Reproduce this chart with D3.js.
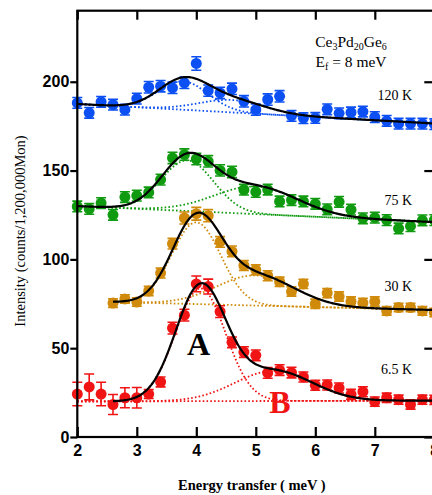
<!DOCTYPE html>
<html>
<head>
<meta charset="utf-8">
<script src="https://cdn.jsdelivr.net/npm/d3@7"></script>
<style>
  body { margin: 0; background: #fff; }
  .tick text { font-family: "Liberation Sans", Arial, sans-serif; font-size: 16px; font-weight: bold; }
  .serif { font-family: "Liberation Serif", "Times New Roman", serif; }
</style>
</head>
<body>
<div id="chart"></div>
<script>

// energy transfer (meV) of the measured points
var energy = [2.0, 2.2, 2.4, 2.6, 2.8, 3.0, 3.2, 3.4, 3.6, 3.8, 4.0, 4.2, 4.4, 4.6, 4.8, 5.0,
              5.2, 5.4, 5.6, 5.8, 6.0, 6.2, 6.4, 6.6, 6.8, 7.0, 7.2, 7.4, 7.6, 7.8, 8.0];
var energy30 = [2.6, 2.8, 3.0, 3.2, 3.4, 3.6, 3.8, 4.0, 4.2, 4.4, 4.6, 4.8, 5.0, 5.2,
                5.4, 5.6, 5.8, 6.0, 6.2, 6.4, 6.6, 6.8, 7.0, 7.2, 7.4, 7.6, 7.8, 8.0];

var int120 = [188.1, 182.5, 188.7, 187.1, 184.3, 190.5, 196.9, 197.5, 196.6, 199.4, 210.3, 195.0, 193.7, 196.0, 189.0, 184.3,
              190.0, 191.8, 180.8, 179.5, 179.6, 184.5, 182.2, 182.7, 183.2, 180.1, 178.0, 176.4, 176.4, 176.4, 176.1];
var err120 = [3, 3, 3, 3, 3, 3, 3.2, 3.2, 3.2, 3.2, 3.8, 3.2, 3.2, 3.2, 3.2, 3.2,
              3.2, 3.2, 3, 3, 3, 3, 3, 3, 3, 3, 3, 3, 3, 3, 3];

var int75 = [129.8, 128.4, 131.7, 125.1, 135.1, 135.9, 137.7, 144.9, 157.1, 159.0, 156.5, 155.2, 150.1, 149.2, 139.2, 138.0,
             139.3, 132.6, 133.4, 132.6, 131.3, 128.2, 132.4, 128.0, 123.1, 123.5, 122.1, 117.4, 118.7, 122.0, 122.1];
var err75 = [3, 3, 3, 3, 3, 3, 3, 3, 3.2, 3.2, 3.2, 3.2, 3.2, 3.2, 3, 3,
             3, 3, 3, 3, 3, 3, 3, 3, 3, 3, 3, 3, 3, 3, 3];

var int30 = [75.4, 77.7, 76.0, 82.2, 92.3, 108.8, 123.3, 125.7, 124.6, 109.8, 104.5, 96.6, 94.1, 90.8,
             87.4, 81.9, 86.2, 75.0, 81.0, 79.1, 76.3, 75.5, 76.3, 71.0, 72.9, 72.9, 71.0, 70.1];
var err30 = [2.4, 2.4, 2.4, 2.6, 2.8, 3, 3.4, 3.6, 3.4, 3, 3, 2.8, 2.8, 2.8,
             2.6, 2.6, 2.6, 2.6, 2.6, 2.6, 2.6, 2.6, 2.6, 2.4, 2.4, 2.4, 2.4, 2.4];

var int6 = [24.2, 28.2, 24.2, 18.3, 22.1, 22.1, 24.2, 31.0, 61.3, 68.6, 86.2, 84.7, 70.6, 53.3, 47.8, 46.0,
            36.1, 37.7, 36.3, 33.8, 29.1, 29.3, 27.6, 24.0, 25.5, 19.9, 22.1, 21.0, 18.3, 21.0, 20.9];
var err6 = [6.6, 7.3, 6.6, 5.6, 5.6, 5.8, 2.5, 2.8, 3.3, 3.3, 4.4, 4.2, 3.3, 3, 3, 3,
            3, 3, 3, 2.8, 2.8, 2.8, 2.8, 2.8, 2.8, 2.6, 2.6, 2.6, 2.6, 2.6, 2.6];

// fit parameters: background [value at 2 meV, value at 8 meV], peaks [amplitude, centre, sigma]
var bg120 = [187.5, 176.5], peakA120 = [16, 3.78, 0.42], peakB120 = [7, 4.6, 0.55];
var bg75 = [130, 121], peakA75 = [28.5, 3.85, 0.44], peakB75 = [15.5, 5.0, 0.7];
var bg30 = [76.5, 71.5], peakA30 = [46, 4.0, 0.41], peakB30 = [17, 5.0, 0.65];
var bg6 = [20, 20.5], peakA6 = [63.5, 4.07, 0.42], peakB6 = [17, 5.3, 0.65];

var tempLabels = ["120 K", "75 K", "30 K", "6.5 K"];
var xTicks = [2, 3, 4, 5, 6, 7, 8];
var yTicks = [0, 50, 100, 150, 200];

var series = [
  { e: energy, v: int120, err: err120, bg: bg120, A: peakA120, B: peakB120, color: "#0c4ff2", fitFrom: 2.0, dotFrom: 2.0 },
  { e: energy, v: int75, err: err75, bg: bg75, A: peakA75, B: peakB75, color: "#109a10", fitFrom: 2.0, dotFrom: 2.0 },
  { e: energy30, v: int30, err: err30, bg: bg30, A: peakA30, B: peakB30, color: "#d08b0c", fitFrom: 2.6, dotFrom: 2.6 },
  { e: energy, v: int6, err: err6, bg: bg6, A: peakA6, B: peakB6, color: "#f01414", fitFrom: 2.6, dotFrom: 2.0 }
];

var width = 432, height = 495;
var margin = { top: 10.7, right: -2.3, bottom: 58, left: 77.3 };

var svg = d3.select("#chart").append("svg")
    .attr("width", width)
    .attr("height", height);

var x = d3.scaleLinear().domain([2, 8]).range([margin.left, width - margin.right]);
var y = d3.scaleLinear().domain([0, 240]).range([height - margin.bottom, margin.top]);

function background(p, e) { return p[0] + (p[1] - p[0]) * (e - 2) / 6; }
function gauss(p, e) { return p[0] * Math.exp(-(e - p[1]) * (e - p[1]) / (2 * p[2] * p[2])); }

var line = d3.line()
    .x(function(d) { return x(d[0]); })
    .y(function(d) { return y(d[1]); })
    .curve(d3.curveLinear);

var plot = svg.append("g");

series.forEach(function(s) {
  var grid = d3.range(s.dotFrom, 8.0001, 0.02);
  var fitGrid = d3.range(s.fitFrom, 8.0001, 0.02);
  var comps = [
    grid.map(function(e) { return [e, background(s.bg, e)]; }),
    grid.map(function(e) { return [e, background(s.bg, e) + gauss(s.A, e)]; }),
    grid.map(function(e) { return [e, background(s.bg, e) + gauss(s.B, e)]; })
  ];
  plot.selectAll(null)
    .data(comps)
    .enter().append("path")
      .attr("d", line)
      .attr("fill", "none")
      .attr("stroke", s.color)
      .attr("stroke-width", 1.8)
      .attr("stroke-dasharray", "1.6,2.2");

  var pts = s.e.map(function(e, i) { return { e: e, v: s.v[i], err: s.err[i] }; });
  var g = plot.append("g");
  g.selectAll(".eb")
    .data(pts)
    .enter().append("path")
      .attr("d", function(d) {
        var cx = x(d.e), y0 = y(d.v - d.err), y1 = y(d.v + d.err);
        return "M" + cx + "," + y0 + "V" + y1 +
               "M" + (cx - 5) + "," + y0 + "H" + (cx + 5) +
               "M" + (cx - 5) + "," + y1 + "H" + (cx + 5);
      })
      .attr("stroke", s.color)
      .attr("stroke-width", 1.6)
      .attr("fill", "none");
  g.selectAll("circle")
    .data(pts)
    .enter().append("circle")
      .attr("cx", function(d) { return x(d.e); })
      .attr("cy", function(d) { return y(d.v); })
      .attr("r", 5.5)
      .attr("fill", s.color);

  s.fit = fitGrid.map(function(e) {
    return [e, background(s.bg, e) + gauss(s.A, e) + gauss(s.B, e)];
  });
});

// total fits on top
series.forEach(function(s) {
  plot.append("path")
    .attr("d", line(s.fit))
    .attr("fill", "none")
    .attr("stroke", "#000")
    .attr("stroke-width", 2.2);
});

// frame and axes
var x0 = x(2), x1 = x(8), y0 = y(0), y1 = y(240);
svg.append("rect")
  .attr("x", x0).attr("y", y1)
  .attr("width", x1 - x0).attr("height", y0 - y1)
  .attr("fill", "none").attr("stroke", "#000").attr("stroke-width", 2.2);

var xAxis = svg.append("g")
  .attr("transform", "translate(0," + y0 + ")")
  .call(d3.axisBottom(x).tickValues(xTicks).tickFormat(d3.format("d"))
        .tickSizeInner(-10).tickSizeOuter(0).tickPadding(8));
xAxis.select(".domain").remove();

var xTop = svg.append("g")
  .attr("transform", "translate(0," + y1 + ")")
  .call(d3.axisTop(x).tickValues(xTicks).tickFormat("").tickSizeInner(-9).tickSizeOuter(0));
xTop.select(".domain").remove();

var yAxis = svg.append("g")
  .attr("transform", "translate(" + x0 + ",0)")
  .call(d3.axisLeft(y).tickValues(yTicks).tickSizeInner(7).tickSizeOuter(0).tickPadding(1));
yAxis.select(".domain").remove();

var yRight = svg.append("g")
  .attr("transform", "translate(" + x1 + ",0)")
  .call(d3.axisRight(y).tickValues(yTicks).tickFormat("").tickSizeInner(-10).tickSizeOuter(0));
yRight.select(".domain").remove();

svg.selectAll(".tick line").attr("stroke-width", 2.2);
svg.selectAll(".tick text").attr("fill", "#000");

// axis titles
svg.append("text")
  .attr("class", "serif")
  .attr("x", (x0 + x1) / 2 - 4)
  .attr("y", 490)
  .attr("text-anchor", "middle")
  .style("font-size", "14.5px")
  .style("font-weight", "bold")
  .text("Energy transfer ( meV )");

svg.append("text")
  .attr("class", "serif")
  .attr("transform", "translate(25,231) rotate(-90)")
  .attr("text-anchor", "middle")
  .style("font-size", "14.5px")
  .text("Intensity (counts/1,200,000Mon)");

// compound and Ef
var title = svg.append("text")
  .attr("class", "serif")
  .attr("x", 351).attr("y", 47)
  .attr("text-anchor", "middle")
  .style("font-size", "15.5px");
title.append("tspan").text("Ce");
title.append("tspan").attr("dy", 3).style("font-size", "10px").text("3");
title.append("tspan").attr("dy", -3).text("Pd");
title.append("tspan").attr("dy", 3).style("font-size", "10px").text("20");
title.append("tspan").attr("dy", -3).text("Ge");
title.append("tspan").attr("dy", 3).style("font-size", "10px").text("6");

var ef = svg.append("text")
  .attr("class", "serif")
  .attr("x", 351).attr("y", 67)
  .attr("text-anchor", "middle")
  .style("font-size", "15.5px");
ef.append("tspan").text("E");
ef.append("tspan").attr("dy", 3).style("font-size", "10px").text("f");
ef.append("tspan").attr("dy", -3).text(" = 8 meV");

// temperature labels
var tempY = [100, 205, 291, 374];
svg.selectAll(".temp")
  .data(tempLabels)
  .enter().append("text")
    .attr("class", "serif temp")
    .attr("x", 412)
    .attr("y", function(d, i) { return tempY[i]; })
    .attr("text-anchor", "end")
    .style("font-size", "14px")
    .text(function(d) { return d; });

svg.append("text")
  .attr("class", "serif")
  .attr("x", 198.5).attr("y", 355)
  .attr("text-anchor", "middle")
  .style("font-size", "32px").style("font-weight", "bold")
  .attr("fill", "#000")
  .text("A");

svg.append("text")
  .attr("class", "serif")
  .attr("x", 280).attr("y", 413)
  .attr("text-anchor", "middle")
  .style("font-size", "32px").style("font-weight", "bold")
  .attr("fill", "#f01414")
  .text("B");

</script>
</body>
</html>
